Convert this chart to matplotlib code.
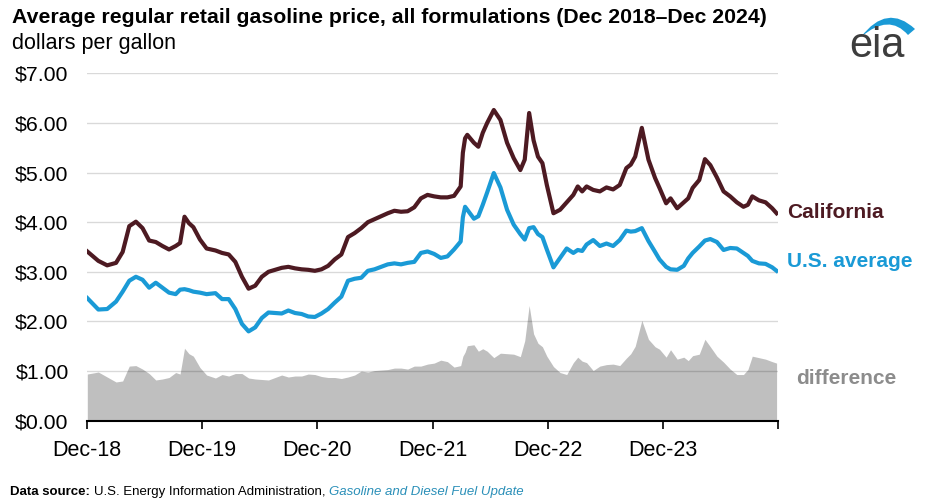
import pandas as pd
import matplotlib.pyplot as plt
from matplotlib.path import Path
from matplotlib.patches import PathPatch
import numpy as np

# weekly-ish readings (dollars per gallon)
dates = ['2018-12-03', '2019-01-07', '2019-02-04', '2019-03-04', '2019-03-25', '2019-04-15',
         '2019-05-06', '2019-05-27', '2019-06-17', '2019-07-08', '2019-07-29', '2019-08-19',
         '2019-09-09', '2019-09-23', '2019-10-07', '2019-10-21', '2019-11-04', '2019-11-25',
         '2019-12-16', '2020-01-13', '2020-02-03', '2020-02-24', '2020-03-16', '2020-04-06',
         '2020-04-27', '2020-05-18', '2020-06-08', '2020-06-29', '2020-07-20', '2020-08-10',
         '2020-08-31', '2020-09-21', '2020-10-12', '2020-11-02', '2020-11-23', '2020-12-14',
         '2021-01-04', '2021-01-25', '2021-02-15', '2021-03-08', '2021-03-29', '2021-04-19',
         '2021-05-10', '2021-05-31', '2021-06-21', '2021-07-12', '2021-08-02', '2021-08-23',
         '2021-09-13', '2021-10-04', '2021-10-25', '2021-11-15', '2021-12-06', '2021-12-27',
         '2022-01-17', '2022-02-07', '2022-02-28', '2022-03-07', '2022-03-14', '2022-03-21',
         '2022-04-11', '2022-04-25', '2022-05-09', '2022-05-23', '2022-06-13', '2022-07-04',
         '2022-07-25', '2022-08-15', '2022-09-05', '2022-09-19', '2022-10-03', '2022-10-17',
         '2022-10-31', '2022-11-14', '2022-11-28', '2022-12-19', '2023-01-09', '2023-01-30',
         '2023-02-20', '2023-03-06', '2023-03-20', '2023-04-03', '2023-04-24', '2023-05-15',
         '2023-06-05', '2023-06-26', '2023-07-17', '2023-08-07', '2023-08-21', '2023-09-04',
         '2023-09-25', '2023-10-16', '2023-11-06', '2023-11-20', '2023-12-11', '2023-12-25',
         '2024-01-15', '2024-02-05', '2024-02-19', '2024-03-04', '2024-03-25', '2024-04-12',
         '2024-04-29', '2024-05-20', '2024-06-10', '2024-07-01', '2024-07-22', '2024-08-12',
         '2024-08-26', '2024-09-09', '2024-09-30', '2024-10-21', '2024-11-11', '2024-11-25']

california = [3.41, 3.22, 3.13, 3.18, 3.40, 3.92,
              4.01, 3.88, 3.63, 3.60, 3.52, 3.45,
              3.52, 3.58, 4.11, 3.98, 3.90, 3.65,
              3.47, 3.43, 3.38, 3.35, 3.20, 2.90,
              2.66, 2.72, 2.90, 3.00, 3.04, 3.08,
              3.10, 3.07, 3.05, 3.04, 3.02, 3.05,
              3.12, 3.25, 3.35, 3.70, 3.78, 3.88,
              4.00, 4.06, 4.12, 4.18, 4.23, 4.21,
              4.22, 4.30, 4.48, 4.55, 4.52, 4.50,
              4.50, 4.53, 4.72, 5.40, 5.69, 5.76,
              5.60, 5.52, 5.80, 6.00, 6.26, 6.06,
              5.60, 5.29, 5.05, 5.26, 6.20, 5.65,
              5.32, 5.19, 4.75, 4.18, 4.25, 4.40,
              4.55, 4.72, 4.62, 4.72, 4.65, 4.62,
              4.70, 4.66, 4.75, 5.09, 5.16, 5.32,
              5.90, 5.26, 4.89, 4.69, 4.38, 4.48,
              4.28, 4.40, 4.48, 4.69, 4.85, 5.27,
              5.15, 4.90, 4.62, 4.52, 4.40, 4.31,
              4.35, 4.52, 4.44, 4.40, 4.28, 4.18]

us_average = [2.47, 2.24, 2.25, 2.40, 2.60, 2.82,
              2.90, 2.84, 2.68, 2.78, 2.68, 2.58,
              2.55, 2.64, 2.65, 2.63, 2.60, 2.58,
              2.55, 2.57, 2.45, 2.45, 2.25, 1.95,
              1.80, 1.88, 2.07, 2.18, 2.17, 2.16,
              2.22, 2.17, 2.15, 2.10, 2.09, 2.16,
              2.25, 2.38, 2.50, 2.82, 2.86, 2.88,
              3.02, 3.05, 3.10, 3.15, 3.17, 3.15,
              3.18, 3.20, 3.38, 3.41, 3.36, 3.28,
              3.31, 3.45, 3.61, 4.10, 4.31, 4.25,
              4.07, 4.12, 4.35, 4.60, 4.99, 4.70,
              4.25, 3.95, 3.76, 3.65, 3.88, 3.90,
              3.76, 3.70, 3.45, 3.09, 3.28, 3.47,
              3.38, 3.44, 3.42, 3.55, 3.64, 3.52,
              3.57, 3.52, 3.64, 3.83, 3.81, 3.82,
              3.88, 3.62, 3.40, 3.25, 3.10, 3.05,
              3.04, 3.12, 3.27, 3.38, 3.51, 3.63,
              3.66, 3.60, 3.44, 3.48, 3.47, 3.38,
              3.32, 3.22, 3.17, 3.16, 3.09, 3.02]

tick_years = [2018, 2019, 2020, 2021, 2022, 2023, 2024]
tick_labels = ['Dec-18', 'Dec-19', 'Dec-20', 'Dec-21', 'Dec-22', 'Dec-23', '']

df = pd.DataFrame({'date': pd.to_datetime(dates), 'ca': california, 'us': us_average})
df['diff'] = df['ca'] - df['us']

plt.rcParams['font.family'] = ['Liberation Sans', 'DejaVu Sans']

fig = plt.figure(figsize=(9.25, 5.01), dpi=100)
ax = fig.add_axes([0.0937, 0.1603, 0.7479, 0.6934])

ax.fill_between(df['date'], 0, df['diff'], color='#bfbfbf', linewidth=0, zorder=1)
ax.plot(df['date'], df['us'], color='#1a9ad6', lw=3, zorder=3, solid_joinstyle='round')
ax.plot(df['date'], df['ca'], color='#4d1a22', lw=3, zorder=3, solid_joinstyle='round')

ax.set_ylim(0, 7)
ax.set_xlim(pd.Timestamp('2018-12-01'), pd.Timestamp('2024-12-01'))
ax.set_yticks(np.arange(0, 8, 1))
ax.set_yticklabels(['$%.2f' % v for v in range(8)])
ax.set_xticks([pd.Timestamp(y, 12, 1) for y in tick_years])
ax.set_xticklabels(tick_labels)

ax.set_axisbelow('line')
ax.grid(axis='y', color='black', alpha=0.15, lw=1)
for s in ['top', 'right', 'left']:
    ax.spines[s].set_visible(False)
ax.spines['bottom'].set_linewidth(1.5)
ax.spines['bottom'].set_zorder(4)
ax.tick_params(axis='y', length=0, pad=13, labelsize=15.3)
ax.tick_params(axis='x', length=6, width=1.2, pad=8, labelsize=15.5, direction='out')

# series labels
ax.text(1.012, 4.2 / 7, 'California', transform=ax.transAxes, color='#4d1a22',
        fontsize=15, fontweight='bold', va='center')
ax.text(1.012, 3.2 / 7, 'U.S. average', transform=ax.transAxes, color='#1a9ad6',
        fontsize=15, fontweight='bold', va='center')
ax.text(1.025, 0.86 / 7, 'difference', transform=ax.transAxes, color='#8c8c8c',
        fontsize=15, fontweight='bold', va='center')

# title block
fig.text(0.013, 0.965, 'Average regular retail gasoline price, all formulations (Dec 2018\u2013Dec 2024)',
         fontsize=15.3, fontweight='bold', va='center')
fig.text(0.013, 0.914, 'dollars per gallon', fontsize=15.5, va='center')

# source line, pieced together
fig.canvas.draw()
r = fig.canvas.get_renderer()
t1 = fig.text(0.011, 0.018, 'Data source:', fontsize=9.5, fontweight='bold', va='center')
x = t1.get_window_extent(r).x1 / fig.bbox.width
t2 = fig.text(x + 0.004, 0.018, 'U.S. Energy Information Administration,', fontsize=9.5, va='center')
x = t2.get_window_extent(r).x1 / fig.bbox.width
fig.text(x + 0.004, 0.018, 'Gasoline and Diesel Fuel Update', fontsize=9.5, style='italic',
         color='#2a8fb8', va='center')

# eia logo
fig.text(0.978, 0.908, 'eia', fontsize=30, color='#3d3d3d', ha='right', va='center')
W, H = 925, 501
pts = [(861, 37), (887, 3), (915, 29), (908, 35), (889, 13), (861, 37)]
codes = [Path.MOVETO, Path.CURVE3, Path.CURVE3, Path.LINETO, Path.CURVE3, Path.CURVE3]
verts = [(px / W, 1 - py / H) for px, py in pts]
fig.patches.append(PathPatch(Path(verts, codes), transform=fig.transFigure,
                             facecolor='#1a9ad6', edgecolor='none'))

plt.savefig('out.png', dpi=100)
